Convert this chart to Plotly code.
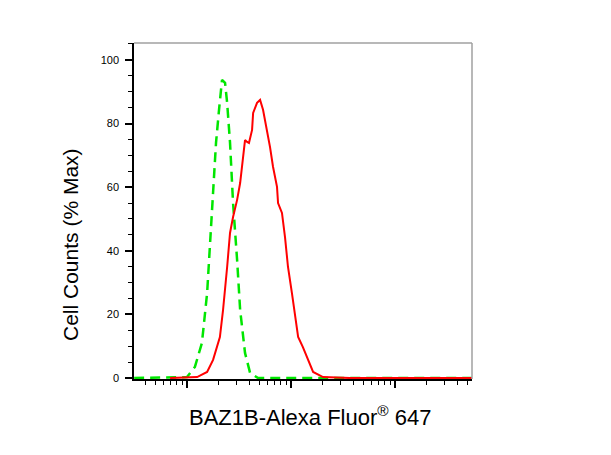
import plotly.graph_objects as go

# Red: BAZ1B-stained sample (fluorescence intensity, % max)
red_x = [6.87, 12.5, 15.6, 17.8, 20.7, 22.2, 24.3, 25.9, 27.7, 30.3, 32.4, 34.5, 36.1,
         37.8, 39.4, 42.2, 43.2, 47.1, 50.4, 53.8, 58.7, 62.8, 67.1, 73.3, 75.0, 81.8,
         87.5, 93.5, 102, 109, 117, 130, 146, 163, 203, 369, 5500]
red_y = [0, 0.3, 1.9, 5.7, 12.9, 21.4, 34.9, 45.6, 50.6, 56.0, 61.3, 68.6, 74.8,
         74.2, 73.9, 78.0, 83.3, 86.5, 87.4, 84.3, 78.0, 72.6, 66.4, 60.1, 55.0, 51.9,
         44.3, 34.9, 26.7, 19.2, 12.9, 9.7, 5.7, 1.9, 0.3, 0, 0]

# Green: isotype control
green_x = [3.1, 10, 11.9, 13.9, 15.6, 16.6, 17.8, 19.0, 20.3, 21.7, 23.2, 24.3, 25.9,
           27.7, 30.3, 32.4, 36.1, 40.4, 48.2, 5500]
green_y = [0, 0.3, 3.5, 11.0, 26.7, 42.5, 56.0, 74.0, 84.3, 93.7, 92.8, 86.5, 74.0,
           55.0, 37.1, 21.4, 7.9, 1.6, 0, 0]

y_ticks = [0, 20, 40, 60, 80, 100]

# page body has an 8px default margin; plot area spans x 134-472, y 43-379 in the window
W, H = 603, 447
L, T, R, B = 126, 35, 139, 76
PW, PH = W - L - R, H - T - B

fig = go.Figure()
fig.add_trace(go.Scatter(x=green_x, y=green_y, mode="lines",
                         line=dict(color="#00e600", width=2.5, dash="10px,6px"),
                         showlegend=False))
fig.add_trace(go.Scatter(x=red_x, y=red_y, mode="lines",
                         line=dict(color="#ff0000", width=2),
                         showlegend=False))

fig.update_layout(
    width=W, height=H,
    margin=dict(l=L, r=R, t=T, b=B),
    paper_bgcolor="white", plot_bgcolor="white",
    font=dict(family="Liberation Sans, Arial, sans-serif", color="black"),
    xaxis=dict(type="log", range=[0.49, 3.74], showticklabels=False,
               showgrid=False, zeroline=False,
               showline=True, linecolor="black", linewidth=1.5,
               ticks="outside", ticklen=7, tickwidth=2, tickcolor="black", dtick=1,
               minor=dict(ticks="outside", ticklen=4, tickwidth=1.2,
                          tickcolor="black", dtick="D1", showgrid=False)),
    yaxis=dict(range=[-0.3, 105.3], tickvals=y_ticks,
               ticktext=[str(v) for v in y_ticks],
               showgrid=False, zeroline=False,
               showline=True, linecolor="black", linewidth=1.5,
               ticks="outside", ticklen=7, tickwidth=2, tickcolor="black",
               tickfont=dict(size=11, color="black"), ticklabelstandoff=4,
               minor=dict(ticks="outside", ticklen=4, tickwidth=1.2,
                          tickcolor="black", dtick=5, showgrid=False)),
    shapes=[
        dict(type="line", xref="paper", yref="paper", x0=0, x1=1, y0=1, y1=1,
             line=dict(color="#a0a0a0", width=1.5)),
        dict(type="line", xref="paper", yref="paper", x0=1, x1=1, y0=0, y1=1,
             line=dict(color="#a0a0a0", width=1.5)),
    ],
    annotations=[
        dict(text="BAZ1B-Alexa Fluor<sup>®</sup> 647", xref="paper", yref="paper",
             x=(310 - 134) / PW, y=-(416 - 379) / PH, xanchor="center",
             yanchor="middle", showarrow=False, font=dict(size=22)),
        dict(text="Cell Counts (% Max)", xref="paper", yref="paper",
             x=-(134 - 70) / PW, y=(379 - 245) / PH, xanchor="center",
             yanchor="middle", textangle=-90, showarrow=False, font=dict(size=21)),
    ],
)

fig.write_html("out.html")
